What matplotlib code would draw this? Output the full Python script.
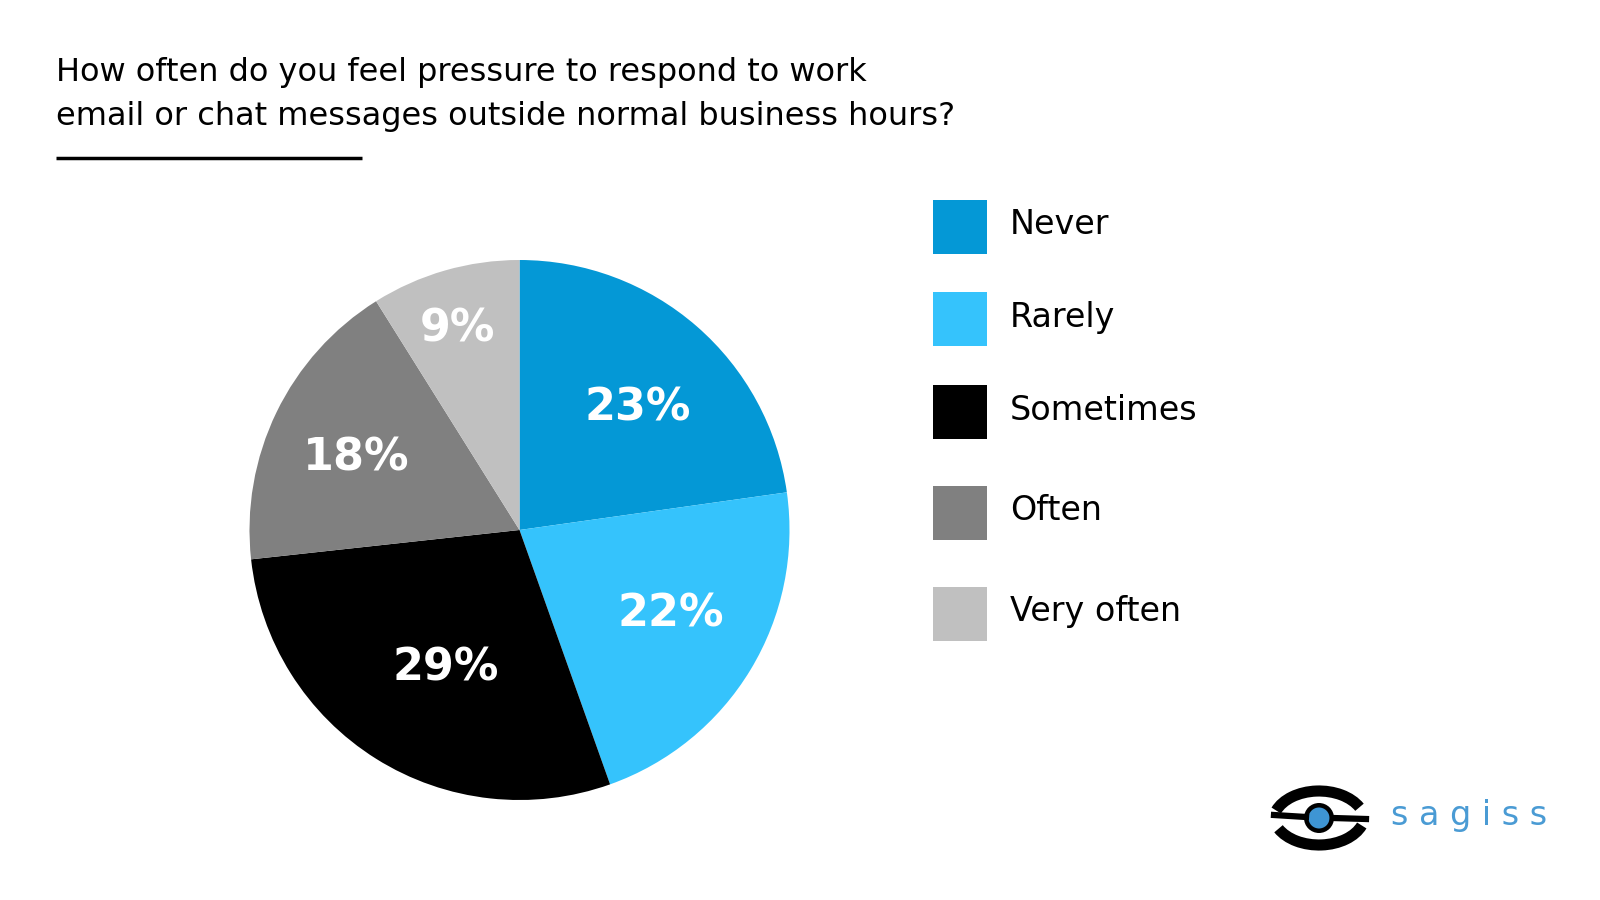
import numpy as np
import matplotlib.pyplot as plt
from matplotlib.patches import Rectangle, Circle, Arc

# data
categories = ["Never", "Rarely", "Sometimes", "Often", "Very often"]
shares = [23, 22, 29, 18, 9]
colours = ["#0498D6", "#35C3FC", "#000000", "#808080", "#C0C0C0"]
title_lines = ["How often do you feel pressure to respond to work",
               "email or chat messages outside normal business hours?"]

plt.rcParams['font.family'] = ['DejaVu Sans']

W, H = 1600, 900
fig = plt.figure(figsize=(16, 9), dpi=100)
fig.patch.set_facecolor("white")

# pie, centre (519, 530) px, radius 270 px
cx, cy, r = 519.5, 530, 270
ax = fig.add_axes([(cx - r) / W, (H - cy - r) / H, 2 * r / W, 2 * r / H])
wedges, _ = ax.pie(shares, colors=colours, startangle=90, counterclock=False,
                   radius=1, wedgeprops=dict(linewidth=0))
ax.set_xlim(-1, 1)
ax.set_ylim(-1, 1)
ax.set_aspect("equal")
ax.axis("off")

# percentage labels, distance from centre varies per slice
label_dist = [0.63, 0.64, 0.58, 0.66, 0.78]
label_shift = [-3, 2, 4, 2, 1]   # degrees
total = sum(shares)
a = 90.0
for v, d, s in zip(shares, label_dist, label_shift):
    span = v / total * 360
    mid = np.deg2rad(a - span / 2 + s)
    ax.text(d * np.cos(mid), d * np.sin(mid), f"{v}%", color="white",
            fontsize=32, fontweight="bold", ha="center", va="center")
    a -= span

# overlay in pixel coordinates for title, legend, logo
ov = fig.add_axes([0, 0, 1, 1])
ov.set_xlim(0, W)
ov.set_ylim(H, 0)
ov.axis("off")

ov.text(56, 73, title_lines[0], fontsize=23, va="center", ha="left")
ov.text(56, 117, title_lines[1], fontsize=23, va="center", ha="left")
ov.plot([56, 362], [158, 158], color="black", lw=2.5, solid_capstyle="butt")

# legend
leg_y = [227, 319, 412, 513, 614]
for cat, col, y in zip(categories, colours, leg_y):
    ov.add_patch(Rectangle((933, y - 27), 54, 54, facecolor=col, edgecolor="none"))
    ov.text(1010, y - 2, cat, fontsize=24, va="center", ha="left")

# logo
ex, ey = 1319, 818
ov.add_patch(Arc((ex, ey + 4), 92, 62, theta1=195, theta2=340, lw=8, color="black"))
ov.add_patch(Arc((ex, ey - 4), 92, 62, theta1=15, theta2=160, lw=8, color="black"))
ov.plot([1274, 1306], [815, 817], color="black", lw=4.5)
ov.plot([1333, 1366], [818, 819], color="black", lw=4.5)
ov.add_patch(Circle((ex, ey), 15, facecolor="black", edgecolor="none"))
ov.add_patch(Circle((ex, ey), 10.5, facecolor="#3E95D4", edgecolor="none"))
ov.text(1391, 816, "s a g i s s", fontsize=24, color="#4A9BD4", va="center", ha="left")

fig.savefig("out.png", dpi=100, facecolor="white")
